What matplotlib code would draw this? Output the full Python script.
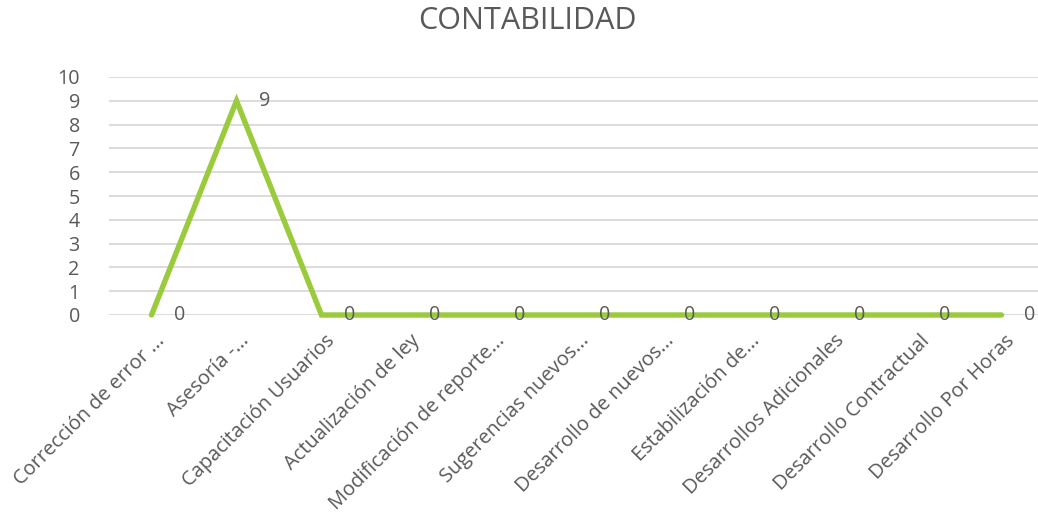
import matplotlib
matplotlib.use("Agg")
import matplotlib.pyplot as plt
from matplotlib.transforms import offset_copy

categories = ["Corrección de error ...", "Asesoría -...", "Capacitación Usuarios",
              "Actualización de ley", "Modificación de reporte...", "Sugerencias nuevos...",
              "Desarrollo de nuevos...", "Estabilización de...", "Desarrollos Adicionales",
              "Desarrollo Contractual", "Desarrollo Por Horas"]
values = [0, 9, 0, 0, 0, 0, 0, 0, 0, 0, 0]
yticks = list(range(0, 11))

plt.rcParams['font.family'] = ['Open Sans', 'DejaVu Sans']
txt = '#595959'

fig = plt.figure(figsize=(10.38, 5.14), dpi=100)
ax = fig.add_axes([109/1038, 1-315/514, (1038-109)/1038, (315-77)/514])
x = list(range(len(categories)))
ax.plot(x, values, color='#9ACB3C', lw=3.9, solid_capstyle='round', solid_joinstyle='miter', zorder=3, clip_on=False)
ax.set_xlim(-0.5, -0.5 + (1038-109)/85.0)
ax.set_ylim(0, 10)
ax.set_yticks(yticks)
ax.set_yticklabels([str(v) for v in yticks], fontsize=14.2, color=txt)
ax.yaxis.grid(True, color='#D9D9D9', lw=1.3)
ax.set_axisbelow(True)
ax.tick_params(axis='y', length=0, pad=21)
ax.tick_params(axis='x', length=0, pad=0)
for s in ax.spines.values():
    s.set_visible(False)
ax.set_xticks(x)
ax.set_xticklabels(categories, rotation=45, ha='right', rotation_mode='anchor', fontsize=14.4, color=txt)
for lab in ax.get_xticklabels():
    lab.set_transform(offset_copy(lab.get_transform(), fig=fig, x=3, y=-16, units='dots'))
for xi, v in zip(x, values):
    ax.annotate(str(v), (xi, v), xytext=(28, 0), textcoords='offset pixels', ha='center', va='center',
                fontsize=14.2, color=txt, annotation_clip=False)
fig.text(527/1038, 1-21/514, 'CONTABILIDAD', ha='center', va='center', fontsize=22, color=txt)
fig.savefig('out.png', dpi=100)
